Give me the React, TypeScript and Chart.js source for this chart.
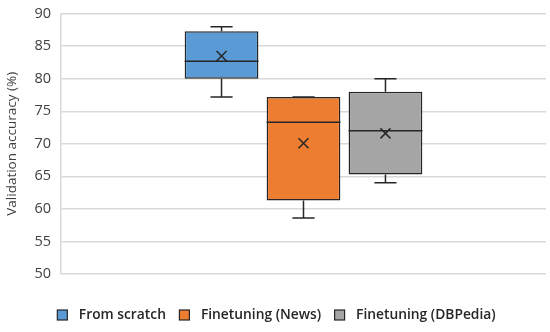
import React, { useEffect, useRef } from "react";
import { Chart, registerables } from "chart.js";

Chart.register(...registerables);

const categories = [""];
const seriesNames = ["From scratch", "Finetuning (News)", "Finetuning (DBPedia)"];
const seriesColors = ["#5B9BD5", "#ED7D31", "#A5A5A5"];
const mins = [77.2, 58.6, 64.0];
const q1s = [80.0, 61.3, 65.3];
const medians = [82.7, 73.3, 72.0];
const q3s = [87.3, 77.2, 78.0];
const maxs = [88.0, 77.2, 80.0];
const means = [83.5, 70.1, 71.6];
const yTicks = [50, 55, 60, 65, 70, 75, 80, 85, 90];

const LINE = "#262626";
const LEGEND_FONT = "600 13.8px 'Open Sans'";

const boxExtras = {
  id: "boxExtras",
  afterDatasetsDraw(chart: any) {
    const ctx = chart.ctx;
    const ys = chart.scales.y;
    ctx.save();
    ctx.strokeStyle = LINE;
    ctx.lineWidth = 1.5;
    chart.data.datasets.forEach((_ds: any, i: number) => {
      const meta = chart.getDatasetMeta(i);
      meta.data.forEach((bar: any) => {
        const { x, width } = bar.getProps(["x", "width"], true);
        const half = width / 2;
        const cap = width * 0.15;
        const pMin = ys.getPixelForValue(mins[i]);
        const pQ1 = ys.getPixelForValue(q1s[i]);
        const pMed = ys.getPixelForValue(medians[i]);
        const pQ3 = ys.getPixelForValue(q3s[i]);
        const pMax = ys.getPixelForValue(maxs[i]);
        const pMean = ys.getPixelForValue(means[i]);
        ctx.beginPath();
        ctx.moveTo(x, pQ3);
        ctx.lineTo(x, pMax);
        ctx.moveTo(x - cap, pMax);
        ctx.lineTo(x + cap, pMax);
        ctx.moveTo(x, pQ1);
        ctx.lineTo(x, pMin);
        ctx.moveTo(x - cap, pMin);
        ctx.lineTo(x + cap, pMin);
        ctx.moveTo(x - half, pMed);
        ctx.lineTo(x + half, pMed);
        const s = 5;
        ctx.moveTo(x - s, pMean - s);
        ctx.lineTo(x + s, pMean + s);
        ctx.moveTo(x + s, pMean - s);
        ctx.lineTo(x - s, pMean + s);
        ctx.stroke();
      });
    });
    ctx.restore();
  },
};

const customLegend = {
  id: "customLegend",
  afterDraw(chart: any) {
    const ctx = chart.ctx;
    ctx.save();
    ctx.font = LEGEND_FONT;
    const box = 10;
    const boxGap = 11.5;
    const itemGap = 13.5;
    const widths = seriesNames.map((n) => ctx.measureText(n).width);
    const total =
      widths.reduce((a, w) => a + box + boxGap + w, 0) + itemGap * (seriesNames.length - 1);
    let x = chart.width / 2 + 1.5 - total / 2;
    const y = 315;
    ctx.textBaseline = "middle";
    ctx.textAlign = "left";
    seriesNames.forEach((name, i) => {
      ctx.fillStyle = seriesColors[i];
      ctx.fillRect(x, y - box / 2, box, box);
      ctx.strokeStyle = LINE;
      ctx.lineWidth = 1.2;
      ctx.strokeRect(x, y - box / 2, box, box);
      ctx.fillStyle = "#262626";
      ctx.fillText(name, x + box + boxGap, y);
      x += box + boxGap + widths[i] + itemGap;
    });
    ctx.restore();
  },
};

export default function App() {
  const ref = useRef<HTMLCanvasElement>(null);
  useEffect(() => {
    document.body.style.margin = "0";
    const canvas = ref.current!;
    const chart = new Chart(canvas, {
      type: "bar",
      data: {
        labels: categories,
        datasets: seriesNames.map((name, i) => ({
          label: name,
          data: [[q1s[i], q3s[i]]] as any,
          backgroundColor: seriesColors[i],
          borderColor: LINE,
          borderWidth: 1.5,
          borderSkipped: false,
          categoryPercentage: 0.507,
          barPercentage: 0.9,
        })),
      },
      options: {
        animation: false,
        responsive: false,
        maintainAspectRatio: false,
        layout: { padding: { top: 12, right: 4, left: 0, bottom: 0 } },
        plugins: {
          tooltip: { enabled: false },
          legend: { display: false },
        },
        scales: {
          x: {
            display: true,
            grid: { display: false },
            border: { display: false },
            ticks: { display: false },
            afterFit(scale: any) {
              scale.height = 58;
            },
          },
          y: {
            min: 50,
            max: 90,
            afterBuildTicks(scale: any) {
              scale.ticks = yTicks.map((v) => ({ value: v }));
            },
            afterFit(scale: any) {
              scale.width = 61;
            },
            border: { display: true, color: "#D9D9D9", width: 1.5 },
            grid: { color: "#D9D9D9", lineWidth: 1.5, drawTicks: false },
            ticks: {
              padding: 10,
              color: "#404040",
              font: { family: "'Open Sans'", size: 14.5, lineHeight: 0.5 },
            },
            title: {
              display: true,
              text: "Validation accuracy (%)",
              color: "#404040",
              padding: { top: 4, bottom: 0 },
              font: { family: "'Open Sans'", size: 13.5 },
            },
          },
        },
      },
      plugins: [boxExtras, customLegend],
    });
    return () => chart.destroy();
  }, []);
  return <canvas ref={ref} width={550} height={332} style={{ display: "block" }} />;
}
